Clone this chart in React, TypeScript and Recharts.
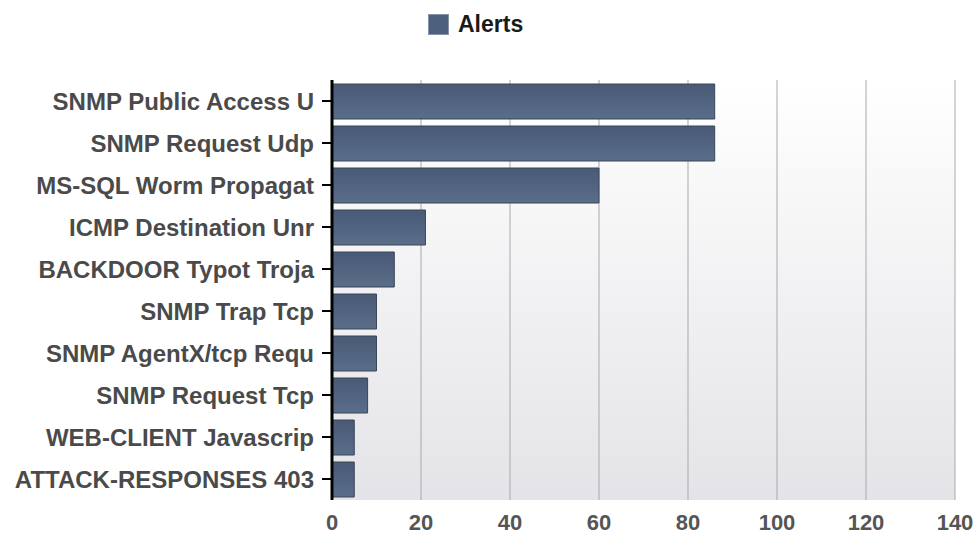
import React from 'react';
import { BarChart, Bar, XAxis, YAxis, CartesianGrid } from 'recharts';

const categories = [
  'SNMP Public Access U',
  'SNMP Request Udp',
  'MS-SQL Worm Propagat',
  'ICMP Destination Unr',
  'BACKDOOR Typot Troja',
  'SNMP Trap Tcp',
  'SNMP AgentX/tcp Requ',
  'SNMP Request Tcp',
  'WEB-CLIENT Javascrip',
  'ATTACK-RESPONSES 403',
];
const alerts = [86, 86, 60, 21, 14, 10, 10, 8, 5, 5];
const xTicks = [0, 20, 40, 60, 80, 100, 120, 140];

const data = categories.map((name, i) => ({ name, alerts: alerts[i] }));

const FONT = '"Liberation Sans", Arial, sans-serif';

function LegendBox() {
  return (
    <div style={{ position: 'absolute', left: 428, top: 11, display: 'flex', alignItems: 'center', fontFamily: FONT }}>
      <div style={{ width: 21, height: 21, background: '#4d607d', border: '1px solid #8594aa', boxSizing: 'border-box', marginRight: 9 }} />
      <span style={{ fontWeight: 'bold', fontSize: 23, color: '#1a1a1a' }}>Alerts</span>
    </div>
  );
}

export default function App() {
  return (
    <div style={{ position: 'fixed', left: 0, top: 0, width: 976, height: 535, background: '#fff' }}>
      <BarChart
        width={976}
        height={535}
        data={data}
        layout="vertical"
        margin={{ top: 80, right: 21, bottom: 5, left: 0 }}
        barSize={35}
      >
        <defs>
          <linearGradient id="plotBg" x1="0" y1="0" x2="0" y2="1">
            <stop offset="0%" stopColor="#ffffff" />
            <stop offset="100%" stopColor="#e4e3e7" />
          </linearGradient>
          <linearGradient id="barFill" x1="0" y1="0" x2="0" y2="1">
            <stop offset="0%" stopColor="#485a75" />
            <stop offset="100%" stopColor="#5a6d89" />
          </linearGradient>
        </defs>
        <CartesianGrid horizontal={false} fill="url(#plotBg)" stroke="#a9a9ad" strokeWidth={1} fillOpacity={1} />
        <XAxis
          type="number"
          domain={[0, 140]}
          ticks={xTicks}
          axisLine={false}
          tickLine={false}
          tickMargin={8}
          height={30}
          tick={{ fill: '#555555', fontSize: 22, fontWeight: 'bold', fontFamily: FONT }}
        />
        <YAxis
          type="category"
          dataKey="name"
          width={332}
          axisLine={{ stroke: '#000', strokeWidth: 3 }}
          tickLine={{ stroke: '#000', strokeWidth: 2 }}
          tickSize={10}
          tickMargin={8}
          interval={0}
          tick={{ fill: '#4a4a4a', fontSize: 24, fontWeight: 'bold', fontFamily: FONT }}
        />
        <Bar dataKey="alerts" fill="url(#barFill)" stroke="#3a4659" strokeWidth={1} isAnimationActive={false} />
      </BarChart>
      <LegendBox />
    </div>
  );
}
